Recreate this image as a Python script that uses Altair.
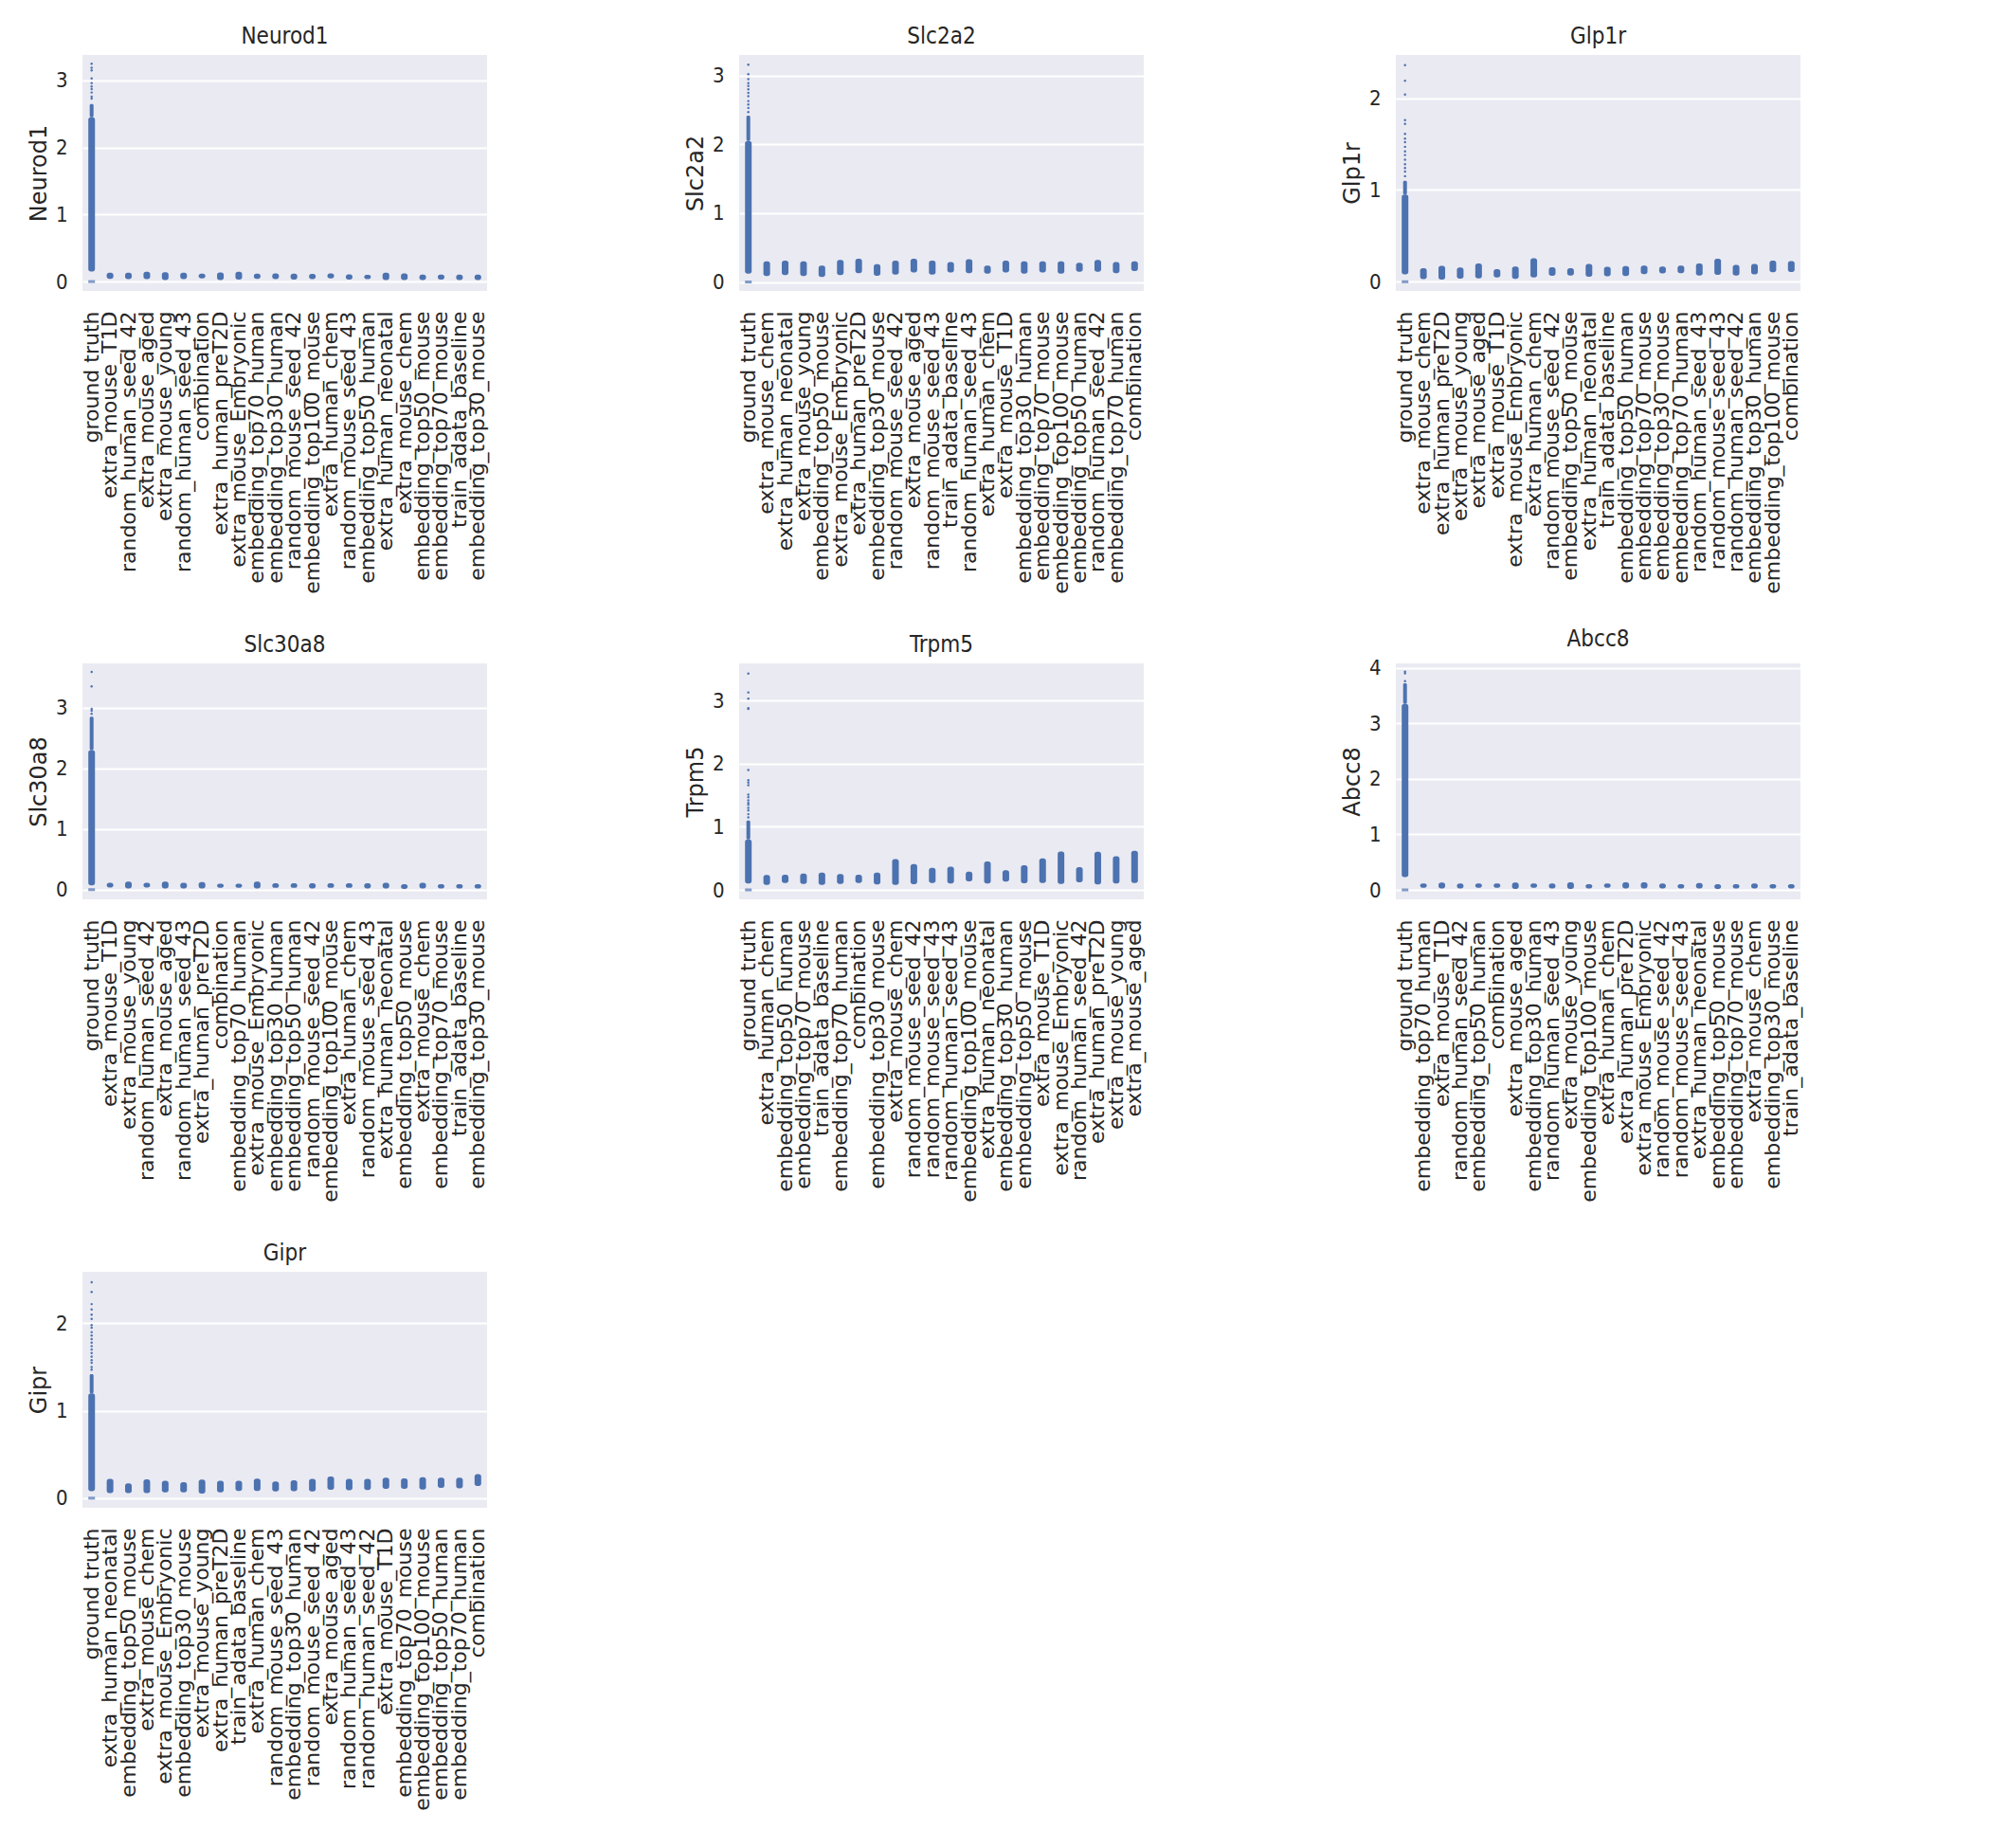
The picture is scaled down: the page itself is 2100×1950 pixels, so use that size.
import altair as alt
import pandas as pd

BLUE = "#4C72B0"
TXT = "#262626"
FONT = "DejaVu Sans"
FONT_NARROW = "DejaVu Sans Condensed, DejaVu Sans"

# ---------------- data ----------------
neurod1_cats = ["ground truth", "extra_mouse_T1D", "random_human_seed_42", "extra_mouse_aged", "extra_mouse_young",
                "random_human_seed_43", "combination", "extra_human_preT2D", "extra_mouse_Embryonic",
                "embedding_top70_human", "embedding_top30_human", "random_mouse_seed_42", "embedding_top100_mouse",
                "extra_human_chem", "random_mouse_seed_43", "embedding_top50_human", "extra_human_neonatal",
                "extra_mouse_chem", "embedding_top50_mouse", "embedding_top70_mouse", "train_adata_baseline",
                "embedding_top30_mouse"]
neurod1_lo = [0.15, 0.042, 0.038, 0.038, 0.024, 0.038, 0.047, 0.024, 0.028, 0.042, 0.038, 0.028, 0.038,
              0.047, 0.028, 0.038, 0.024, 0.024, 0.024, 0.028, 0.024, 0.024]
neurod1_hi = [2.45, 0.132, 0.132, 0.146, 0.14, 0.132, 0.118, 0.137, 0.146, 0.118, 0.123, 0.118, 0.113,
              0.123, 0.108, 0.099, 0.132, 0.123, 0.104, 0.104, 0.104, 0.104]
neurod1_fade = [2.45, 2.65]
neurod1_tail = [2.73, 2.76, 2.82, 2.87, 2.91, 2.96, 3.03, 3.15, 3.19, 3.25]

slc2a2_cats = ["ground truth", "extra_mouse_chem", "extra_human_neonatal", "extra_mouse_young", "embedding_top50_mouse",
               "extra_mouse_Embryonic", "extra_human_preT2D", "embedding_top30_mouse", "random_mouse_seed_42",
               "extra_mouse_aged", "random_mouse_seed_43", "train_adata_baseline", "random_human_seed_43",
               "extra_human_chem", "extra_mouse_T1D", "embedding_top30_human", "embedding_top70_mouse",
               "embedding_top100_mouse", "embedding_top50_human", "random_human_seed_42", "embedding_top70_human",
               "combination"]
slc2a2_lo = [0.12, 0.088, 0.10, 0.088, 0.074, 0.10, 0.13, 0.09, 0.106, 0.14, 0.106, 0.14, 0.13, 0.12, 0.14,
             0.12, 0.14, 0.12, 0.15, 0.15, 0.13, 0.16]
slc2a2_hi = [2.05, 0.30, 0.31, 0.30, 0.24, 0.32, 0.34, 0.26, 0.31, 0.34, 0.31, 0.29, 0.33, 0.24, 0.31, 0.30,
             0.30, 0.30, 0.28, 0.32, 0.29, 0.30]
slc2a2_fade = [2.05, 2.42]
slc2a2_tail = [2.47, 2.53, 2.58, 2.63, 2.70, 2.75, 2.80, 2.85, 2.89, 2.95, 3.02, 3.16]

glp1r_cats = ["ground truth", "extra_mouse_chem", "extra_human_preT2D", "extra_mouse_young", "extra_mouse_aged",
              "extra_mouse_T1D", "extra_mouse_Embryonic", "extra_human_chem", "random_mouse_seed_42",
              "embedding_top50_mouse", "extra_human_neonatal", "train_adata_baseline", "embedding_top50_human",
              "embedding_top70_mouse", "embedding_top30_mouse", "embedding_top70_human", "random_human_seed_43",
              "random_mouse_seed_43", "random_human_seed_42", "embedding_top30_human", "embedding_top100_mouse",
              "combination"]
glp1r_lo = [0.08, 0.028, 0.024, 0.035, 0.038, 0.048, 0.031, 0.048, 0.066, 0.069, 0.055, 0.059, 0.062, 0.083,
            0.09, 0.093, 0.069, 0.076, 0.069, 0.08, 0.104, 0.107]
glp1r_hi = [0.95, 0.149, 0.173, 0.156, 0.20, 0.138, 0.166, 0.256, 0.159, 0.149, 0.194, 0.163, 0.17, 0.176,
            0.166, 0.176, 0.20, 0.25, 0.183, 0.194, 0.23, 0.225]
glp1r_fade = [0.95, 1.10]
glp1r_tail = [1.15, 1.20, 1.24, 1.28, 1.33, 1.38, 1.42, 1.47, 1.52, 1.56, 1.61, 1.72, 1.76, 2.04, 2.19, 2.36]

slc30a8_cats = ["ground truth", "extra_mouse_T1D", "extra_mouse_young", "random_human_seed_42", "extra_mouse_aged",
                "random_human_seed_43", "extra_human_preT2D", "combination", "embedding_top70_human",
                "extra_mouse_Embryonic", "embedding_top30_human", "embedding_top50_human", "random_mouse_seed_42",
                "embedding_top100_mouse", "extra_human_chem", "random_mouse_seed_43", "extra_human_neonatal",
                "embedding_top50_mouse", "extra_mouse_chem", "embedding_top70_mouse", "train_adata_baseline",
                "embedding_top30_mouse"]
slc30a8_lo = [0.07, 0.037, 0.021, 0.037, 0.021, 0.021, 0.021, 0.031, 0.031, 0.021, 0.031, 0.031, 0.021, 0.031,
              0.031, 0.021, 0.021, 0.010, 0.021, 0.021, 0.021, 0.021]
slc30a8_hi = [2.30, 0.115, 0.131, 0.115, 0.131, 0.115, 0.125, 0.099, 0.099, 0.131, 0.105, 0.105, 0.105, 0.105,
              0.105, 0.105, 0.115, 0.089, 0.115, 0.089, 0.089, 0.089]
slc30a8_fade = [2.30, 2.85]
slc30a8_tail = [2.90, 2.95, 2.98, 3.35, 3.59]

trpm5_cats = ["ground truth", "extra_human_chem", "embedding_top50_human", "embedding_top70_mouse",
              "train_adata_baseline", "embedding_top70_human", "combination", "embedding_top30_mouse",
              "extra_mouse_chem", "random_mouse_seed_42", "random_mouse_seed_43", "random_human_seed_43",
              "embedding_top100_mouse", "extra_human_neonatal", "embedding_top30_human", "embedding_top50_mouse",
              "extra_mouse_T1D", "extra_mouse_Embryonic", "random_human_seed_42", "extra_human_preT2D",
              "extra_mouse_young", "extra_mouse_aged"]
trpm5_lo = [0.10, 0.08, 0.11, 0.095, 0.08, 0.095, 0.11, 0.085, 0.08, 0.09, 0.11, 0.10, 0.135, 0.10, 0.13, 0.105,
            0.11, 0.095, 0.12, 0.085, 0.10, 0.11]
trpm5_hi = [0.80, 0.235, 0.24, 0.26, 0.275, 0.25, 0.24, 0.275, 0.49, 0.41, 0.35, 0.37, 0.29, 0.45, 0.31, 0.39,
            0.50, 0.61, 0.36, 0.605, 0.535, 0.62]
trpm5_fade = [0.80, 1.10]
trpm5_tail = [1.15, 1.20, 1.26, 1.30, 1.35, 1.38, 1.42, 1.47, 1.51, 1.66, 1.70, 1.74, 1.90, 2.87, 2.88, 3.03,
              3.13, 3.43]

abcc8_cats = ["ground truth", "embedding_top70_human", "extra_mouse_T1D", "random_human_seed_42",
              "embedding_top50_human", "combination", "extra_mouse_aged", "embedding_top30_human",
              "random_human_seed_43", "extra_mouse_young", "embedding_top100_mouse", "extra_human_chem",
              "extra_human_preT2D", "extra_mouse_Embryonic", "random_mouse_seed_42", "random_mouse_seed_43",
              "extra_human_neonatal", "embedding_top50_mouse", "embedding_top70_mouse", "extra_mouse_chem",
              "embedding_top30_mouse", "train_adata_baseline"]
abcc8_lo = [0.23, 0.04, 0.028, 0.028, 0.04, 0.04, 0.017, 0.04, 0.028, 0.017, 0.028, 0.04, 0.028, 0.028, 0.028,
            0.028, 0.028, 0.017, 0.028, 0.028, 0.028, 0.028]
abcc8_hi = [3.35, 0.114, 0.131, 0.114, 0.114, 0.114, 0.131, 0.114, 0.114, 0.137, 0.103, 0.114, 0.137, 0.137,
            0.114, 0.103, 0.125, 0.103, 0.103, 0.114, 0.103, 0.103]
abcc8_fade = [3.35, 3.72]
abcc8_tail = [3.76, 3.90, 3.93]

gipr_cats = ["ground truth", "extra_human_neonatal", "embedding_top50_mouse", "extra_mouse_chem",
             "extra_mouse_Embryonic", "embedding_top30_mouse", "extra_mouse_young", "extra_human_preT2D",
             "train_adata_baseline", "extra_human_chem", "random_mouse_seed_43", "embedding_top30_human",
             "random_mouse_seed_42", "extra_mouse_aged", "random_human_seed_43", "random_human_seed_42",
             "extra_mouse_T1D", "embedding_top70_mouse", "embedding_top100_mouse", "embedding_top50_human",
             "embedding_top70_human", "combination"]
gipr_lo = [0.08, 0.058, 0.058, 0.058, 0.065, 0.065, 0.054, 0.065, 0.083, 0.083, 0.076, 0.079, 0.076, 0.097,
           0.09, 0.094, 0.108, 0.108, 0.10, 0.119, 0.112, 0.14]
gipr_hi = [1.20, 0.22, 0.17, 0.216, 0.198, 0.184, 0.213, 0.198, 0.198, 0.223, 0.19, 0.205, 0.22, 0.249, 0.22,
           0.22, 0.234, 0.227, 0.241, 0.234, 0.234, 0.274]
gipr_fade = [1.20, 1.42]
gipr_tail = [1.47, 1.50, 1.55, 1.58, 1.62, 1.66, 1.70, 1.74, 1.78, 1.82, 1.86, 1.90, 1.95, 1.98, 2.05, 2.10,
             2.16, 2.22, 2.36, 2.47]

zero_value = 0.0

y_domains = {
    "Neurod1": [-0.14, 3.38], "Slc2a2": [-0.13, 3.30], "Glp1r": [-0.10, 2.47], "Slc30a8": [-0.16, 3.73],
    "Trpm5": [-0.15, 3.59], "Abcc8": [-0.17, 4.08], "Gipr": [-0.11, 2.59],
}
y_ticks = {
    "Neurod1": [0, 1, 2, 3], "Slc2a2": [0, 1, 2, 3], "Glp1r": [0, 1, 2], "Slc30a8": [0, 1, 2, 3],
    "Trpm5": [0, 1, 2, 3], "Abcc8": [0, 1, 2, 3, 4], "Gipr": [0, 1, 2],
}

PW, PH = 427, 249


def panel(gene, cats, lo, hi, fade, tail):
    xs = alt.X("cat:N", sort=cats,
               scale=alt.Scale(paddingInner=0, paddingOuter=0),
               axis=alt.Axis(title=None, labelAngle=270, labelPadding=21, grid=False,
                             ticks=False, domain=False, labelFontSize=22, labelLimit=0))
    ysc = alt.Scale(domain=y_domains[gene], nice=False, zero=False)
    yax = alt.Axis(title=gene, values=y_ticks[gene], format="d", labelPadding=16, titlePadding=5,
                   grid=True, ticks=False, domain=False, labelFont=FONT_NARROW)

    df = pd.DataFrame({"cat": cats, "lo": lo, "hi": hi})
    bars = alt.Chart(df).mark_bar(size=7, color=BLUE, cornerRadius=2.5).encode(
        x=xs, y=alt.Y("lo:Q", scale=ysc, axis=yax), y2="hi:Q")

    fdf = pd.DataFrame({"cat": [cats[0]], "lo": [fade[0]], "hi": [fade[1]]})
    fbar = alt.Chart(fdf).mark_bar(size=4, color=BLUE, cornerRadius=1.5).encode(
        x=alt.X("cat:N", sort=cats), y=alt.Y("lo:Q"), y2="hi:Q")

    tdf = pd.DataFrame({"cat": [cats[0]] * len(tail), "v": tail})
    pts = alt.Chart(tdf).mark_circle(size=6, color=BLUE, opacity=1).encode(
        x=alt.X("cat:N", sort=cats), y=alt.Y("v:Q"))

    zdf = pd.DataFrame({"cat": [cats[0]], "v": [zero_value]})
    zero = alt.Chart(zdf).mark_tick(orient="horizontal", size=7, thickness=3, color=BLUE).encode(
        x=alt.X("cat:N", sort=cats), y=alt.Y("v:Q"))

    return alt.layer(bars, fbar, pts, zero).properties(width=PW, height=PH, title=gene)


p1 = panel("Neurod1", neurod1_cats, neurod1_lo, neurod1_hi, neurod1_fade, neurod1_tail)
p2 = panel("Slc2a2", slc2a2_cats, slc2a2_lo, slc2a2_hi, slc2a2_fade, slc2a2_tail)
p3 = panel("Glp1r", glp1r_cats, glp1r_lo, glp1r_hi, glp1r_fade, glp1r_tail)
p4 = panel("Slc30a8", slc30a8_cats, slc30a8_lo, slc30a8_hi, slc30a8_fade, slc30a8_tail)
p5 = panel("Trpm5", trpm5_cats, trpm5_lo, trpm5_hi, trpm5_fade, trpm5_tail)
p6 = panel("Abcc8", abcc8_cats, abcc8_lo, abcc8_hi, abcc8_fade, abcc8_tail)
p7 = panel("Gipr", gipr_cats, gipr_lo, gipr_hi, gipr_fade, gipr_tail)

HS = 207
row1 = alt.hconcat(p1, p2, p3, spacing=HS)
row2 = alt.hconcat(p4, p5, p6, spacing=HS)
row3 = alt.hconcat(p7, spacing=HS)

top_rows = alt.vconcat(row1, row2, spacing=35)

chart = alt.vconcat(top_rows, row3, spacing=42).properties(
    padding={"left": 29, "top": 27, "right": 5, "bottom": 5},
    background="white",
).configure_view(
    fill="#EAEAF2", stroke=None
).configure_axis(
    labelFont=FONT, titleFont=FONT, labelColor=TXT, titleColor=TXT,
    labelFontSize=22, titleFontSize=24, titleFontWeight="normal",
    gridColor="white", gridWidth=2, gridOpacity=1,
).configure_title(
    font=FONT_NARROW, fontSize=24, fontWeight="normal", color=TXT, offset=7, anchor="middle"
)

chart.save("out.html", embed_options={"renderer": "svg", "actions": False})
